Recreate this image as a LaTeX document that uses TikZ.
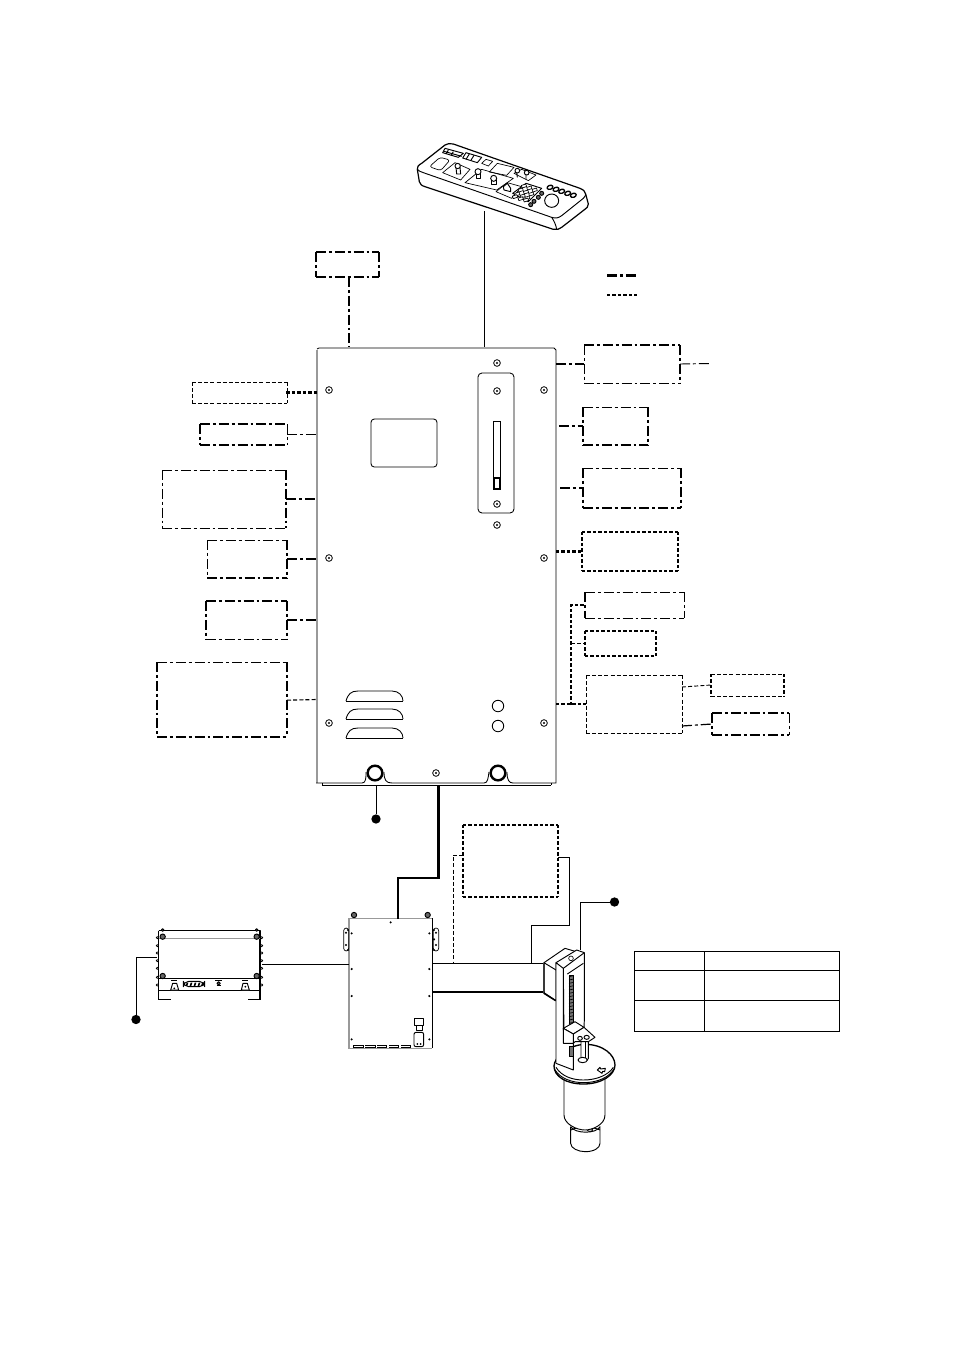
\documentclass[tikz,border=0pt]{standalone}
\usetikzlibrary{calc}
\tikzset{
  dt/.style={line width=0.7pt,dash pattern=on 7.5pt off 2.2pt on 2.2pt off 2.2pt},
  Dt/.style={line width=1.8pt,dash pattern=on 7.5pt off 2.2pt on 2.2pt off 2.2pt},
  st/.style={line width=0.7pt,dash pattern=on 3pt off 1.6pt},
  St/.style={line width=1.8pt,dash pattern=on 2.6pt off 1.5pt},
  wire/.style={line width=0.65pt},
  hwire/.style={line width=2pt},
  pin/.style={circle,fill=black,inner sep=0pt,minimum size=7pt},
  anchorbox/.style={rectangle,inner sep=0pt,outer sep=0pt},
  device/.style={line width=0.7pt,line join=round},
  devthin/.style={line width=0.5pt,line join=round},
  greyedge/.style={line width=1.5pt,draw=black!40},
}
% name x1 y1 x2 y2 top right bottom left
\newcommand{\ebox}[9]{%
  \node[anchorbox,minimum width={(#4-#2)*0.75pt},minimum height={(#5-#3)*0.75pt}] (#1) at ({(#2+#4)/2},{(#3+#5)/2}) {};
  \ebxrest{#1}{#6}{#7}{#8}{#9}}
\newcommand{\ebxrest}[5]{%
  \draw[#2] (#1.north west) -- (#1.north east);
  \draw[#3] (#1.north east) -- (#1.south east);
  \draw[#4] (#1.south west) -- (#1.south east);
  \draw[#5] (#1.north west) -- (#1.south west);}
\newcommand{\scr}[2]{\draw[line width=0.6pt,fill=white] (#1,#2) circle (2.5pt); \fill (#1,#2) circle (0.9pt);}
\begin{document}
\begin{tikzpicture}[x=0.75pt,y=-0.75pt]
\useasboundingbox (0,0) rectangle (954,1350);
\fill[white] (0,0) rectangle (954,1350);

% ---------- remote panel
\node[anchorbox,minimum width=120pt,minimum height=60pt] (remote) at (503,186) {};
\begin{scope}[shift={(400,130)},x=0.25pt,y=-0.25pt]
  \draw[device,line width=0.9pt,fill=white] (52,118) .. controls (50,112) and (55,105) .. (65,100) -- (135,45) .. controls (142,40) and (150,40) .. (160,42) -- (540,175) .. controls (552,180) and (555,185) .. (557,192) -- (565,222) .. controls (565,230) and (560,235) .. (552,240) -- (485,292) .. controls (478,298) and (470,300) .. (460,298) -- (75,170) .. controls (65,167) and (60,163) .. (58,155) -- cycle;
  \draw[device] (52,118) .. controls (56,122) and (60,125) .. (70,128) -- (455,262) .. controls (468,266) and (475,264) .. (485,257) -- (550,205) .. controls (555,200) and (557,196) .. (557,192);
  \draw[device] (455,262) .. controls (462,272) and (468,285) .. (470,298);
  % panel details
  \draw[device] (135,55) -- (190,70) -- (175,82) -- (128,68) -- cycle;
  \draw[device] (145,60) -- (138,72) (160,65) -- (153,77) (132,64) -- (185,79);
  \draw[device] (198,68) -- (245,82) -- (232,98) -- (188,84) -- cycle;
  \draw[device] (208,72) -- (198,88) (222,76) -- (212,92);
  \draw[devthin,rounded corners=2pt] (88,110) -- (120,82) -- (150,90) -- (122,122) -- cycle;
  \draw[devthin] (245,100) -- (258,88) -- (278,94) -- (265,108) -- cycle;
  \draw[devthin] (268,126) -- (292,100) -- (342,112) -- (320,136) -- cycle;
  \draw[devthin] (128,128) -- (165,98) -- (210,118) -- (182,150) -- cycle;
  \draw[device,fill=white] (168,112) -- (170,132) -- (182,132) -- (180,112) -- cycle;
  \draw[device,fill=white] (173,108) ellipse (8 and 8);
  \draw[devthin] (195,158) -- (245,118) -- (340,145) -- (290,180) -- cycle;
  \draw[device,fill=white] (228,128) -- (228,145) -- (240,145) -- (240,128) -- cycle;
  \draw[device,fill=white] (234,125) ellipse (9 and 9);
  \draw[device,fill=white] (275,148) -- (275,164) -- (288,164) -- (288,148) -- cycle;
  \draw[device,fill=white] (281,145) ellipse (9 and 9);
  \draw[devthin] (342,130) -- (365,118) -- (408,135) -- (385,152) -- cycle;
  \draw[device] (350,125) -- (352,142) (378,130) -- (378,148);
  \draw[device,fill=white] (352,122) circle (7) (380,128) circle (7);
  \draw[devthin] (288,185) -- (322,158) -- (365,170) -- (335,205) -- cycle;
  \draw[device] (310,170) -- (322,160) -- (332,175) -- (332,185) -- (312,180) -- cycle;
  \draw[device] (338,190) -- (378,160) -- (425,175) -- (385,215) -- cycle;
  \foreach \a/\b in {362/180,378/186,394/192,372/168,388/174,404/180,352/192,368/198,382/204,345/200,362/206,378/210}{
    \draw[devthin,fill=white,rotate around={18:(\a,\b)}] (\a-7,\b-4) rectangle (\a+7,\b+4);}
  \foreach \a/\b in {425/190,415/202,402/214,392/224}{\draw[device,fill=black!60] (\a,\b) circle (6);}
  \foreach \a/\b in {450/172,468/178,485/184,503/190,520/196}{
    \draw[device,line width=1pt,fill=white,rotate around={18:(\a,\b)}] (\a,\b) ellipse (9 and 6);}
  \draw[device,fill=white] (455,212) ellipse (21 and 20);
\end{scope}

% ---------- main cabinet
\node[anchorbox,minimum width={239*0.75pt},minimum height={436*0.75pt}] (main) at (436.5,566) {};
\draw[wire] (319,348) -- (554,348) -- (556,350) -- (556,783) -- (513,783);
\draw[greyedge] (317,350) -- (317,783);
\draw[wire] (317,349) -- (319,348);
\draw[wire] (316,783) -- (362,783) .. controls (366,783) and (366,778) .. (366,772);
\draw[wire] (384,772) .. controls (384,780) and (386,783) .. (392,783) -- (484,783) .. controls (488,783) and (488,778) .. (489,772);
\draw[wire] (507,772) .. controls (507,780) and (509,783) .. (513,783);
\draw[line width=0.5pt] (322,785.3) -- (551,785.3);
\draw[line width=0.5pt] (322,783) -- (322,785.3) (551,783) -- (551,785.3);
% window & plate
\draw[wire,rounded corners=2.5pt] (371,419) rectangle (437,467);
\draw[wire,rounded corners=3pt] (478,373) rectangle (514,513);
\draw[wire] (493.5,421) rectangle (500,489);
\draw[wire,fill=white] (494,478) rectangle (500,489);
\draw[line width=1pt] (494,478) -- (494,489) -- (500,489) -- (500,478) -- cycle;
% louvers
\foreach \y in {691,709,728}{
  \draw[wire] (346,\y+10) .. controls (348,\y+3) and (351,\y) .. (358,\y) -- (392,\y) .. controls (399,\y) and (403,\y+5) .. (403,\y+10);
  \draw[wire] (346,\y+10) -- (403,\y+10);}
\draw[wire] (498,706) circle (4.3pt) (498,726) circle (4.3pt);
\draw[line width=1.8pt] (375,773) circle (5.5pt) (498,773) circle (5.5pt);
\foreach \a/\b in {329/390,544/390,329/558,544/558,329/723,544/723,497/363,497/391,497/504,497/525,436/773}{\scr{\a}{\b}}

% ---------- remote cable
\draw[wire] (484.5,211) -- (484.5,347);

% ---------- top box
\ebox{top}{316}{252}{379}{277}{Dt}{Dt}{Dt}{Dt}
\draw[Dt] (top.south -| 349,0) -- (349,347);

% ---------- legend
\coordinate (lega) at (607,275.5);\coordinate (legb) at (637,275.5);
\coordinate (legc) at (607,295);\coordinate (legd) at (637,295);
\draw[Dt,line width=1.6pt] (lega) -- (legb);
\draw[St,line width=1.5pt] (legc) -- (legd);

% ---------- left boxes
\ebox{la}{192}{382}{287}{403}{st}{st}{st}{st}
\draw[St,line width=1.6pt] ([xshift=-0.5pt]la.east) -- (la.east -| main.west);
\ebox{lb}{200}{424}{287}{445}{Dt,line width=1.5pt}{dt}{Dt,line width=1.5pt}{Dt,line width=1.5pt}
\draw[dt] (lb.east) -- (lb.east -| main.west);
\ebox{lc}{162}{470}{286}{528}{dt}{Dt}{dt}{dt}
\draw[Dt] (lc.east) -- (lc.east -| main.west);
\ebox{ld}{207}{540}{287}{578}{dt}{Dt}{Dt}{dt}
\draw[Dt] (ld.east) -- (ld.east -| main.west);
\ebox{le}{206}{601}{287}{639}{Dt,line width=1.6pt}{Dt,line width=1.4pt}{dt}{Dt,line width=1.6pt}
\draw[Dt] (le.east) -- (le.east -| main.west);
\ebox{lf}{157}{662}{287}{737}{dt}{Dt}{Dt}{Dt}
\draw[st,line width=0.85pt] ([yshift=-0.5pt]lf.east) -- (lf.east -| main.west);

% ---------- right boxes
\ebox{ra}{584}{345}{680}{383}{Dt,line width=1.6pt}{dt,line width=1.1pt}{dt}{dt}
\draw[Dt] (main.east |- ra.west) -- (ra.west);
\coordinate (raend) at (711,363.5);
\draw[dt] (ra.east) -- (raend);
\ebox{rb}{583}{407}{648}{445}{dt}{Dt}{Dt}{Dt}
\draw[Dt] ([xshift=2.2pt]main.east |- rb.west) -- (rb.west);
\ebox{rc}{583}{468}{681}{508}{dt}{Dt}{Dt}{Dt,line width=1.6pt}
\draw[Dt] ([xshift=3pt]main.east |- rc.west) -- (rc.west);
\ebox{rd}{582}{532}{678}{571}{St,line width=1.6pt}{St,line width=1.3pt}{St,line width=1.6pt}{St,line width=1.6pt}
\draw[St,line width=1.6pt] (main.east |- rd.west) -- (rd.west);
\ebox{re}{585}{592}{684}{618}{dt}{dt}{dt}{Dt}
\ebox{rf}{585}{631}{656}{656}{St,line width=1.6pt}{St}{St,line width=1.6pt}{St,line width=1.3pt}
\ebox{rg}{586}{675}{682}{733}{st}{st}{st}{st}
\ebox{rh}{711}{674}{784}{696}{st}{St,line width=1.4pt}{st}{St,line width=1.4pt}
\ebox{ri}{712}{713}{789}{735}{Dt,line width=1pt}{dt}{Dt}{Dt,line width=1.4pt}
\draw[St] (main.east |- rg.west) -- (rg.west);
\coordinate (busj) at (571,705);
\draw[St] (busj) -- (busj |- re.west) -- (re.west);
\draw[st] (busj |- rf.west) -- (rf.west);
\draw[st] (682,687) -- (rh.west);
\draw[dt,line width=0.9pt] (682,726) -- (ri.west);

% ---------- pins and heavy cable
\node[pin] (pa) at (376,819) {};
\draw[wire] (376,786) -- (pa);

% ---------- controller
\node[anchorbox,minimum width={84*0.75pt},minimum height={130*0.75pt}] (ctrl) at (391,984) {};
\begin{scope}[shift={(330,900)},x=0.25pt,y=-0.25pt]
  \draw[greyedge,line width=1pt] (57,55) -- (305,55) (57,55) -- (57,445) -- (305,445);
  \draw[device] (306,55) -- (306,445);
  \draw[device,fill=black!60] (72,45) circle (8) (293,45) circle (8);
  \draw[devthin,rounded corners=2pt] (41,84) rectangle (56,153);
  \draw[devthin,rounded corners=2pt] (310,84) rectangle (326,153);
  \foreach \a/\b in {48/98,48/135,54/90,54/150,318/98,318/135,312/90,312/118,312/150,65/100,65/207,65/288,65/418,298/100,298/207,298/288,298/418,182/67}{\fill (\a,\b) circle (3.5);}
  \draw[device,fill=white] (252,355) rectangle (280,375);
  \draw[device,fill=white] (258,375) rectangle (276,392);
  \draw[device,fill=white,rounded corners=1.5pt] (252,397) rectangle (281,440);
  \draw[line width=0.4pt,dash pattern=on 7pt off 2pt] (70,435) -- (240,435) (70,443) -- (240,443);
  \draw[devthin] (70,435) -- (70,443) (100,435) -- (100,443) (135,435) -- (135,443) (170,435) -- (170,443) (205,435) -- (205,443) (240,435) -- (240,443);
  \fill (262,432) circle (3) (272,432) circle (3);
\end{scope}

% ---------- left unit
\node[anchorbox,minimum width={104*0.75pt},minimum height={70*0.75pt}] (unit) at (209,965) {};
\begin{scope}[shift={(130,900)},x=0.25pt,y=-0.25pt]
  \draw[device,line width=1pt] (86,92) -- (390,92) -- (390,300) (86,92) -- (86,300);
  \draw[greyedge,line width=1pt] (86,116) -- (390,116);
  \draw[device] (86,234) -- (390,234) (86,272) -- (390,272);
  \draw[device] (88,298) -- (122,298) (355,298) -- (390,298);
  \draw[device,fill=black!60] (98,110) circle (8) (380,110) circle (8) (98,228) circle (8) (380,228) circle (8) (98,90) circle (4) (380,90) circle (4);
  \foreach \y in {113,137,159,182,205,232,255}{\draw[devthin] (82,\y) circle (3.5) (395,\y) circle (3.5);}
  \draw[device,fill=white] (122,270) -- (128,250) -- (140,250) -- (146,270) -- cycle;
  \draw[device,fill=white] (334,270) -- (339,250) -- (352,250) -- (358,270) -- cycle;
  \draw[devthin] (124,240) -- (142,240) (336,240) -- (354,240);
  \fill (133,265) circle (3) (346,260) circle (3);
  \draw[device,rounded corners=4pt] (160,244) rectangle (224,260);
  \foreach \a in {170,182,194,206,216}{\fill (\a,248) -- (\a+5,248) -- (\a+2,258) -- (\a-3,258) -- cycle;}
  \draw[device,fill=black!60] (266,250) circle (5);
  \draw[device] (256,240) -- (276,240) (260,257) -- (272,257);
\end{scope}

% ---------- pump
\node[anchorbox,minimum width=60pt,minimum height=120pt] (pump) at (578,1040) {};
\coordinate (pumptop) at (580,950);
\begin{scope}[shift={(520,930)},x=0.25pt,y=-0.25pt]
  % cylinder and bottom
  \draw[device,fill=white] (152,590) -- (152,640) .. controls (152,655) and (175,665) .. (196,665) .. controls (220,665) and (240,655) .. (240,640) -- (240,590) .. controls (230,612) and (165,612) .. (152,590);
  \draw[device] (153,600) .. controls (165,590) and (225,590) .. (240,600);
  \draw[device] (210,600) ellipse (8 and 4);
  \draw[device,fill=white] (132,445) -- (132,555) .. controls (132,582) and (170,600) .. (195,600) .. controls (215,600) and (255,585) .. (255,555) -- (255,445) -- cycle;
  % flange
  \draw[device,line width=1pt,fill=white] (102,408) .. controls (102,385) and (140,345) .. (195,343) .. controls (250,343) and (285,375) .. (285,405) .. controls (285,435) and (245,462) .. (190,462) .. controls (140,462) and (102,440) .. (102,408) -- cycle;
  \draw[device] (104,418) .. controls (120,447) and (160,458) .. (190,458) .. controls (235,458) and (270,440) .. (283,415);
  \draw[device] (108,412) .. controls (125,440) and (160,450) .. (190,450) .. controls (230,450) and (265,435) .. (280,412);
  % arrow on flange
  \draw[device,fill=white] (232,420) -- (240,412) -- (242,417) -- (256,415) -- (254,425) -- (248,424) -- (246,430) -- cycle;
  % back block
  \draw[device,fill=white] (72,98) -- (135,55) -- (192,72) -- (130,110) -- (108,100) -- (108,212) -- (72,188) -- cycle;
  \draw[device,line width=1.1pt] (72,98) -- (72,190) -- (107,212);
  \draw[device] (72,98) -- (108,120);
  % front column
  \draw[device,fill=white] (108,98) -- (170,60) -- (193,68) -- (193,270) -- (192,292) -- (160,322) -- (132,322) -- (130,118) -- cycle;
  \draw[device,fill=white] (108,98) -- (108,400) -- (160,420) -- (160,340) -- (130,300) -- (130,115) -- cycle;
  \draw[device] (130,115) -- (193,68);
  \draw[devthin] (153,85) circle (7);
  \draw[device] (142,132) -- (190,100);
  % screw
  \draw[device,fill=black!55] (147,135) rectangle (161,290);
  \foreach \y in {140,150,...,285}{\draw[line width=0.5pt] (147,\y) -- (161,\y-3);}
  % carriage
  \draw[device,fill=white] (130,295) -- (165,275) -- (192,292) -- (160,312) -- cycle;
  \draw[device,fill=white] (160,312) -- (192,292) -- (225,322) -- (205,335) -- (165,335) -- (160,340) -- cycle;
  \draw[device,fill=white] (180,325) ellipse (7 and 6) (200,322) ellipse (8 and 6);
  \draw[device,fill=white] (130,295) -- (130,340) -- (160,340) -- (160,312) -- cycle;
  \draw[device,fill=black!55] (147,350) rectangle (160,380);
  % rod
  \draw[device,fill=white] (183,335) -- (183,385) .. controls (183,395) and (205,395) .. (205,385) -- (205,335) -- cycle;
  \draw[device,fill=white] (188,390) ellipse (14 and 8);
  \draw[device] (195,335) -- (195,385);
\end{scope}

% ---------- cables between devices
\draw[hwire] (438.5,786) -- (438.5,878) -- (398,878) -- (398,919);
\draw[wire] (unit.east |- 0,964) ++(1,0) -- (349,964);
\coordinate (pumpa) at (543,963);\coordinate (pumpb) at (543,992);
\draw[wire] (433,963) -- (pumpa);
\draw[hwire] (433,992) -- (pumpb);
\node[pin] (pb) at (136,1019.5) {};
\draw[wire] (157,957) -- (136,957) -- (pb);
\node[pin] (pc) at (614.5,902) {};
\draw[wire] (pc) -- (580,902) -- (pumptop);

% ---------- encoder box
\ebox{enc}{463}{825}{558}{897}{St}{St}{St}{St}
\draw[st] (enc.west |- 0,855) -- (453,855) -- (453,963);
\draw[wire] (enc.east |- 0,857) -- (569.5,857) -- (569.5,925) -- (531,925) -- (531,963);

% ---------- table
\node[anchorbox,minimum width={205*0.75pt},minimum height={80*0.75pt},draw,line width=0.65pt] (tab) at (736.5,991) {};
\draw[wire] (tab.west |- 0,970) -- (tab.east |- 0,970);
\draw[wire] (tab.west |- 0,1000) -- (tab.east |- 0,1000);
\draw[wire] (704,951) -- (704,1031);
\end{tikzpicture}
\end{document}
